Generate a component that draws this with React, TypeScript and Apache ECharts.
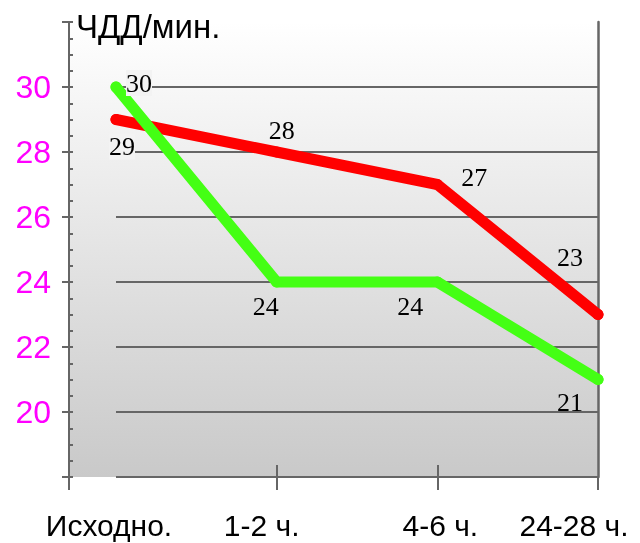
import { useEffect, useRef } from 'react';
import * as echarts from 'echarts';

// ---- data ----
const categories = ['Исходно.', '1-2 ч.', '4-6 ч.', '24-28 ч.'];
const redValues = [29, 28, 27, 23];
const greenValues = [30, 24, 24, 21];
const gridValues = [18, 20, 22, 24, 26, 28, 30];
const yTitle = 'ЧДД/мин.';
const yMin = 18;
const yMax = 32;
const yStep = 2;

// ---- label placement (style, not data) ----
const redLabelOffsets = [[6, 27], [5, -22], [37, -7], [-28, -57]];
const greenLabelOffsets = [[23, -4], [-11, 24], [-27, 24], [-28, 23]];
const xLabelNudgePx = [-7, -15, 3, -24];

const X_MIN = -0.2925;
const X_MAX = 3;
const GRID_LEFT = 69;
const GRID_RIGHT = 42;
const PX_PER_UNIT = (640 - GRID_LEFT - GRID_RIGHT) / (X_MAX - X_MIN);

const SANS = "'Liberation Sans', Arial, sans-serif";
const SERIF = "'Liberation Serif', 'Times New Roman', serif";
const AXIS_GRAY = '#666666';

const labelBgFor = (v: number) => (v >= 29 ? '#f3f3f3' : 'transparent');

export default function App() {
  const ref = useRef<HTMLDivElement>(null);
  useEffect(() => {
    if (!ref.current) return;
    const chart = echarts.init(ref.current, null, { renderer: 'svg' });
    const makeSeries = (name: string, values: number[], color: string, offsets: number[][]) => ({
      name,
      type: 'line',
      xAxisIndex: 0,
      yAxisIndex: 0,
      data: values.map((v, i) => ({
        value: [i, v],
        label: { offset: offsets[i], backgroundColor: labelBgFor(v) },
      })),
      symbol: 'circle',
      symbolSize: 11,
      showSymbol: true,
      lineStyle: { color, width: 11, cap: 'round', join: 'round' },
      itemStyle: { color },
      emphasis: { disabled: true },
      label: {
        show: true,
        position: 'inside',
        formatter: (p: any) => String(p.value[1]),
        fontFamily: SERIF,
        fontSize: 26,
        color: '#000',
      },
      z: 3,
    });
    const red: any = makeSeries('red', redValues, '#ff0000', redLabelOffsets);
    red.markLine = {
      silent: true,
      symbol: 'none',
      z: 1,
      label: { show: false },
      emphasis: { disabled: true },
      lineStyle: { color: AXIS_GRAY, width: 2, type: 'solid' },
      data: gridValues.map((v) => [{ coord: [0, v] }, { coord: [categories.length - 1, v] }]),
    };
    const green: any = makeSeries('green', greenValues, '#44ff14', greenLabelOffsets);

    chart.setOption({
      animation: false,
      title: {
        text: yTitle,
        left: 71,
        top: 5,
        textStyle: { fontSize: 33, fontWeight: 'normal', color: '#000', fontFamily: SANS },
      },
      grid: {
        left: GRID_LEFT,
        right: GRID_RIGHT,
        top: 22,
        bottom: 66,
        show: true,
        borderWidth: 0,
        backgroundColor: {
          type: 'linear',
          x: 0,
          y: 0,
          x2: 0,
          y2: 1,
          colorStops: [
            { offset: 0, color: '#ffffff' },
            { offset: 1, color: '#c9c9c9' },
          ],
        },
      },
      xAxis: [
        {
          type: 'value',
          position: 'bottom',
          min: X_MIN,
          max: X_MAX,
          axisLine: { show: false, onZero: false },
          splitLine: { show: false },
          axisTick: {
            show: true,
            customValues: [X_MIN, 1, 2, 3],
            length: 13,
            lineStyle: { color: AXIS_GRAY, width: 2 },
          },
          axisLabel: {
            show: true,
            customValues: categories.map((_, i) => i + xLabelNudgePx[i] / PX_PER_UNIT),
            formatter: (v: number) => categories[Math.round(v)] ?? '',
            fontSize: 30,
            lineHeight: 30,
            fontFamily: SANS,
            color: '#000',
            margin: 33,
          },
        },
        {
          type: 'value',
          position: 'bottom',
          min: X_MIN,
          max: X_MAX,
          axisLine: { show: false, onZero: false },
          splitLine: { show: false },
          axisTick: {
            show: true,
            inside: true,
            customValues: [1, 2],
            length: 12,
            lineStyle: { color: AXIS_GRAY, width: 2 },
          },
          axisLabel: { show: false },
        },
      ],
      yAxis: [
        {
          type: 'value',
          position: 'left',
          min: yMin,
          max: yMax,
          interval: yStep,
          axisLine: { show: true, onZero: false, lineStyle: { color: AXIS_GRAY, width: 2 } },
          axisTick: { show: true, inside: true, length: 4, lineStyle: { color: AXIS_GRAY, width: 2 } },
          minorTick: { show: true, splitNumber: 4, length: 4, lineStyle: { color: AXIS_GRAY, width: 2 } },
          splitLine: { show: false },
          axisLabel: {
            show: true,
            color: '#ff00ff',
            fontSize: 32,
            fontFamily: SANS,
            margin: 18,
            showMinLabel: false,
            showMaxLabel: false,
          },
        },
        {
          type: 'value',
          position: 'left',
          min: yMin,
          max: yMax,
          interval: yStep,
          axisLine: { show: false, onZero: false },
          axisTick: { show: true, inside: false, length: 7, lineStyle: { color: AXIS_GRAY, width: 2 } },
          splitLine: { show: false },
          axisLabel: { show: false },
        },
        {
          type: 'value',
          position: 'right',
          min: yMin,
          max: yMax,
          interval: yStep,
          axisLine: { show: true, onZero: false, lineStyle: { color: AXIS_GRAY, width: 2.5 } },
          axisTick: { show: false },
          splitLine: { show: false },
          axisLabel: { show: false },
        },
      ],
      series: [red, green],
    });
    return () => chart.dispose();
  }, []);
  return (
    <div
      ref={ref}
      style={{ position: 'fixed', left: 0, top: 0, width: 640, height: 543 }}
    />
  );
}
